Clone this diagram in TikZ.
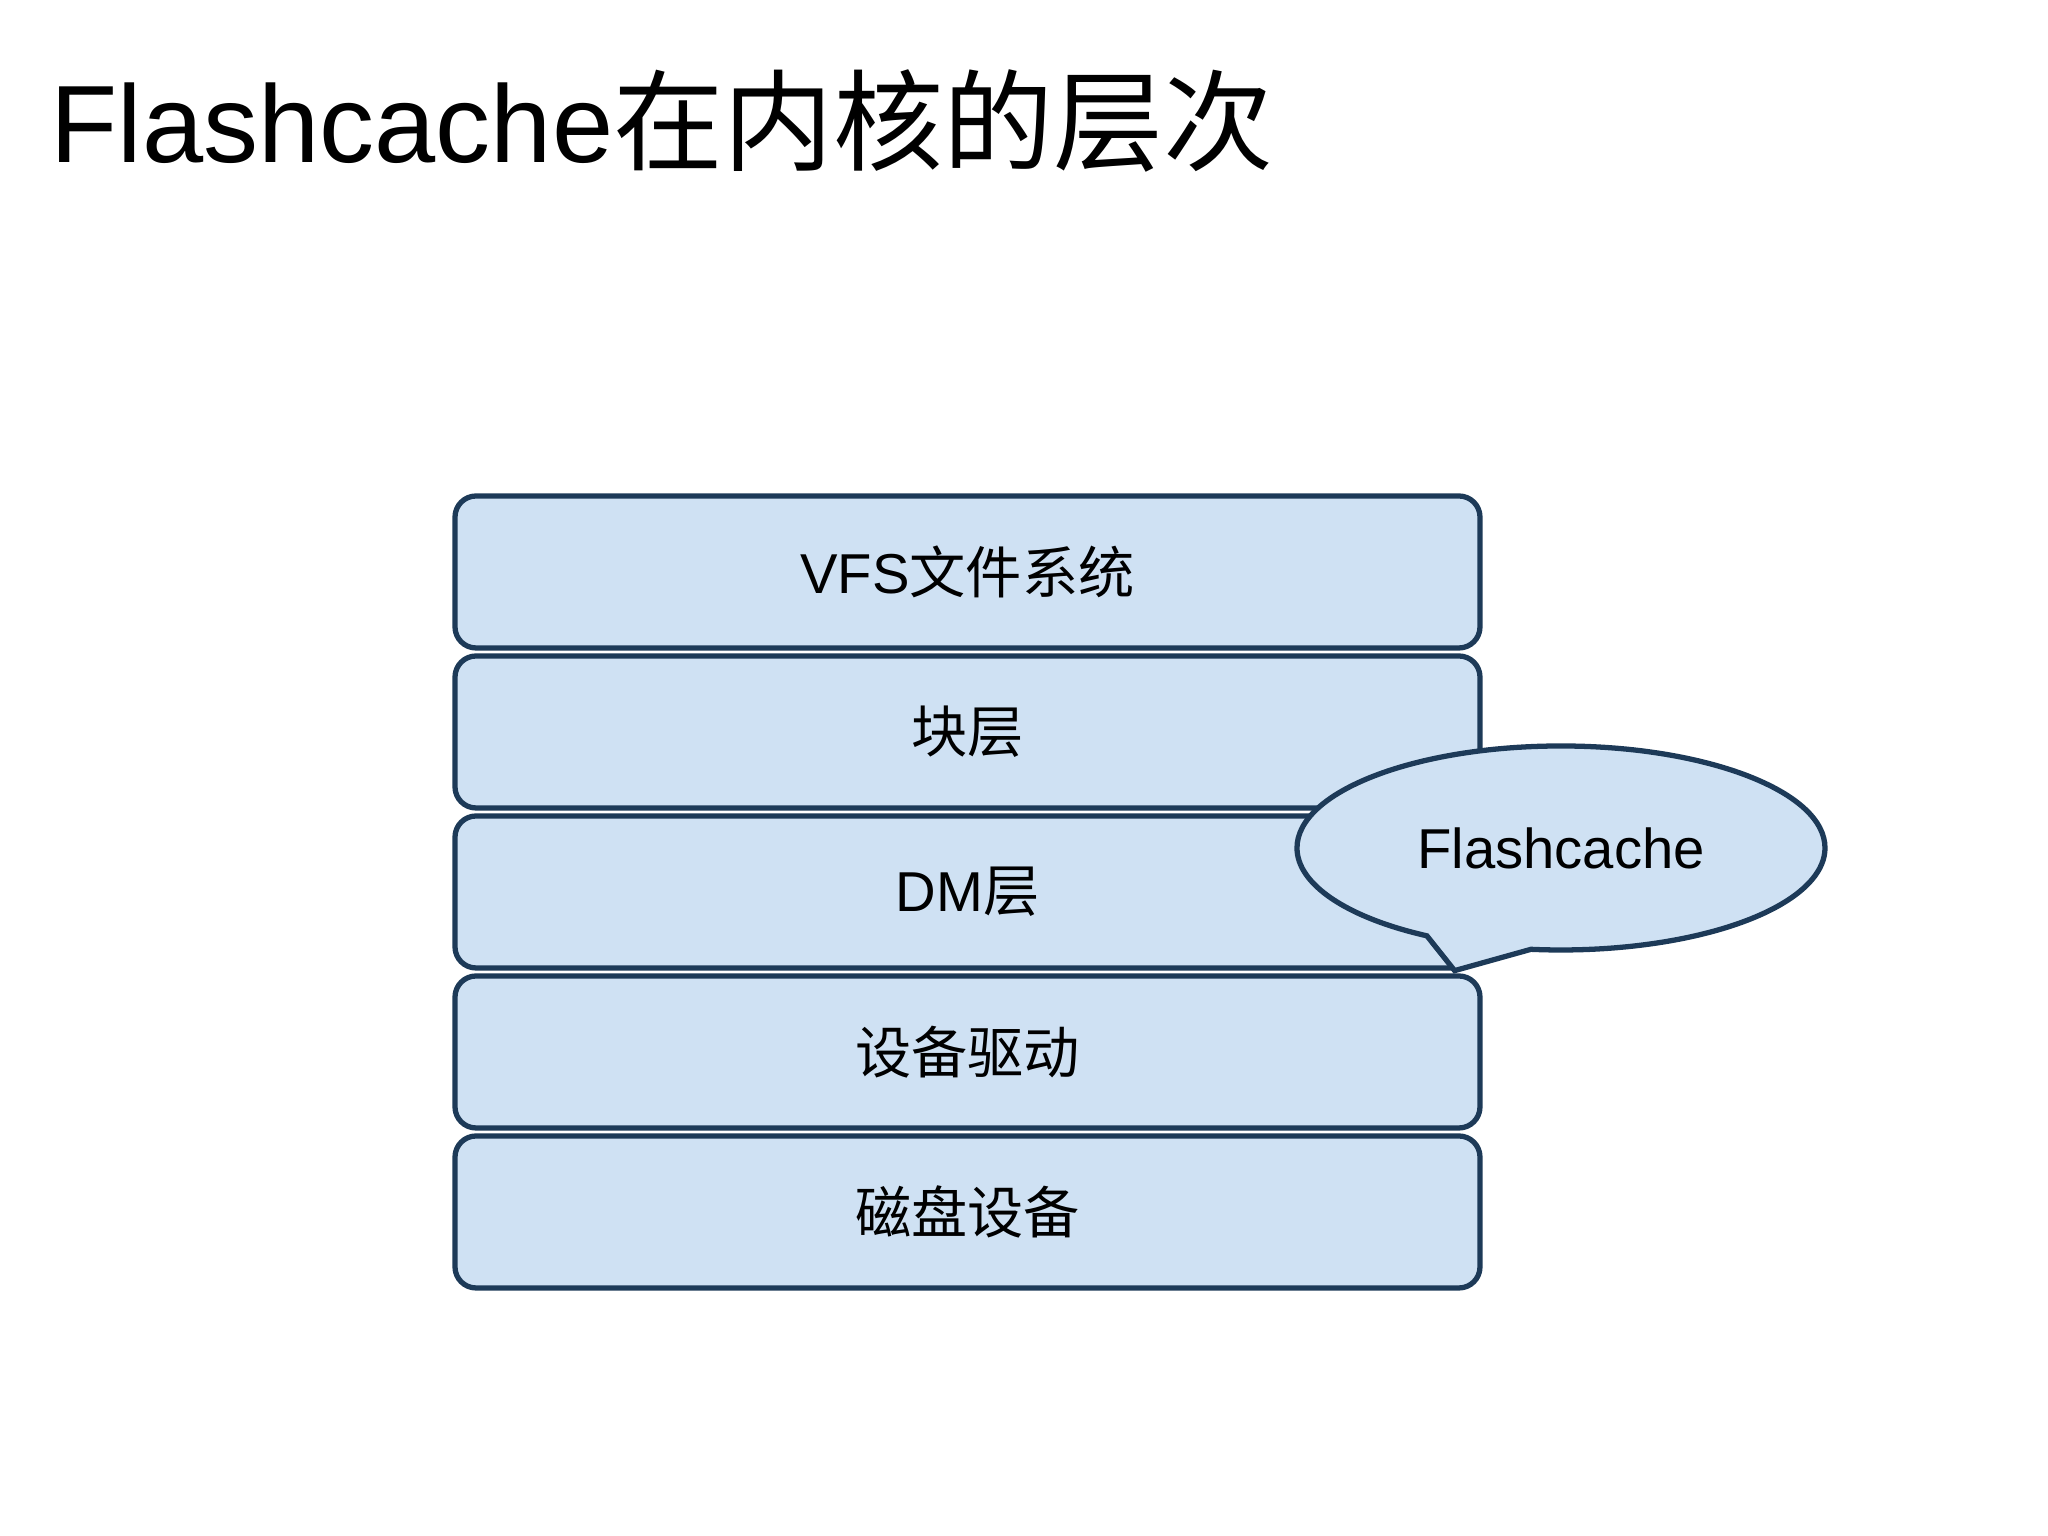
\documentclass[tikz,border=0pt]{standalone}
\usepackage{fontspec}
\setmainfont{Liberation Sans}
\newfontfamily\cjk{Noto Sans CJK SC}
\usepackage{tikz}
\usetikzlibrary{shapes.callouts}
\definecolor{layerline}{HTML}{1D3A58}
\definecolor{layerfill}{HTML}{CFE1F3}

\begin{document}
\begin{tikzpicture}[
      layer/.style={draw=layerline, fill=layerfill, line width=1.5pt, rounded corners=6pt,
                    minimum width=10.25cm, minimum height=1.52cm,
                    font=\fontsize{16}{19}\selectfont, align=center},
      bubble/.style={ellipse callout, draw=layerline, fill=layerfill, line width=1.5pt,
                     minimum width=5.28cm, minimum height=2.04cm, inner sep=0pt,
                     callout pointer arc=24, font=\fontsize{16}{19}\selectfont},
      heading/.style={anchor=base west, inner sep=0pt, font=\fontsize{31.3}{36}\selectfont}
    ]
    \useasboundingbox (0,0) rectangle (20.48,15.36);
    \node[heading] (title) at (0.5,13.73) {Flashcache{\cjk 在内核的层次}};
    \node[layer] (vfs)  at (9.675,9.64) {VFS{\cjk 文件系统}};
    \node[layer] (blk)  at (9.675,8.04) {{\cjk 块层}};
    \node[layer] (dm)   at (9.675,6.44) {DM{\cjk 层}};
    \node[layer] (drv)  at (9.675,4.84) {{\cjk 设备驱动}};
    \node[layer] (disk) at (9.675,3.24) {{\cjk 磁盘设备}};
    \coordinate (tip) at ([xshift=-0.28cm]dm.south east);
    \node[bubble, callout absolute pointer=(tip)] (cache) at (15.61,6.88) {Flashcache};
  \end{tikzpicture}
\end{document}
